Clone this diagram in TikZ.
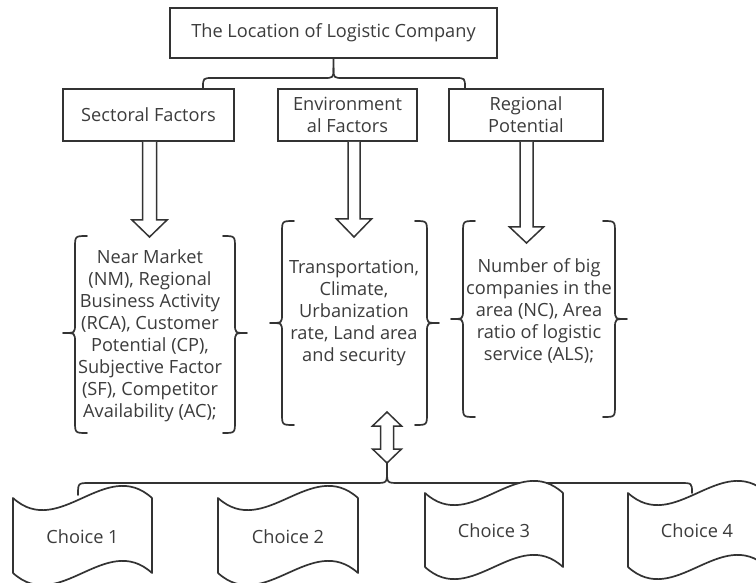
\documentclass[tikz,border=0pt]{standalone}
\usepackage{fontspec}
\setmainfont{Open Sans}
\definecolor{ln}{HTML}{333333}
\definecolor{tx}{HTML}{3C3C3C}
\newcommand\BrL[4]{% v t m b
  \draw[brc] ({#1+12},#2) .. controls (#1,#2) .. (#1,{#2+12}) -- (#1,{#3-9}) .. controls (#1,#3) .. ({#1-12},#3) .. controls (#1,#3) .. (#1,{#3+9}) -- (#1,{#4-12}) .. controls (#1,#4) .. ({#1+12},#4);}
\newcommand\BrR[4]{%
  \draw[brc] ({#1-12},#2) .. controls (#1,#2) .. (#1,{#2+12}) -- (#1,{#3-9}) .. controls (#1,#3) .. ({#1+12},#3) .. controls (#1,#3) .. (#1,{#3+9}) -- (#1,{#4-12}) .. controls (#1,#4) .. ({#1-12},#4);}
\newcommand\Tape[4]{% L T B W
  \draw[tp] (#1,#2) .. controls ({#1+#4/3},{#2+42}) and ({#1+2*#4/3},{#2-42}) .. ({#1+#4},#2) -- ({#1+#4},#3) .. controls ({#1+2*#4/3},{#3-42}) and ({#1+#4/3},{#3+42}) .. (#1,#3) -- cycle;}
\begin{document}
\begin{tikzpicture}[x=1pt,y=-1pt,
  every node/.style={text=tx,font=\fontsize{18.2}{22}\selectfont,align=center,inner sep=0pt},
  box/.style={draw=ln,line width=1.7pt,fill=white},
  brc/.style={draw=ln,line width=1.7pt,line cap=round,line join=round},
  barrow/.style={draw=ln,line width=1.5pt,fill=white,line join=miter},
  tp/.style={draw=ln,line width=1.7pt,fill=white,line join=round}]
\useasboundingbox (0,0) rectangle (756,583);
\clip (0,0) rectangle (756,583);
\fill[white] (0,0) rectangle (756,583);
% top level
\node[box,minimum width=327,minimum height=50] (top) at (333.5,33) {The Location of Logistic Company};
\node[box,minimum width=171,minimum height=52] (sec) at (148.5,115) {Sectoral Factors};
\node[box,minimum width=139,minimum height=52] (env) at (347.5,115) {Environment\\al Factors};
\node[box,minimum width=154,minimum height=52] (reg) at (526,115) {Regional\\Potential};
% top brace
\draw[brc] (top.south) -- (333.5,68) .. controls (333.5,78) .. (323.5,78) -- (213,78) .. controls (203,78) .. (203,88);
\draw[brc] (333.5,68) .. controls (333.5,78) .. (343.5,78) -- (455,78) .. controls (465,78) .. (465,88);
% block arrows
\draw[barrow] (142.5,142) -- (142.5,220) -- (132,220) -- (149.5,237) -- (167,220) -- (156.5,220) -- (156.5,142);
\draw[barrow] (348,142) -- (348,219) -- (336.5,219) -- (354,237) -- (371.5,219) -- (360,219) -- (360,142);
\draw[barrow] (520,142) -- (520,227) -- (509.5,227) -- (526.5,243) -- (543.5,227) -- (533,227) -- (533,142);
% factor texts
\node (t1) at (150,336) {Near Market\\(NM), Regional\\Business Activity\\(RCA), Customer\\Potential (CP),\\Subjective Factor\\(SF), Competitor\\Availability (AC);};
\node (t2) at (354,313) {Transportation,\\Climate,\\Urbanization\\rate, Land area\\and security};
\node (t3) at (539,311) {Number of big\\companies in the\\area (NC), Area\\ratio of logistic\\service (ALS);};
% braces
\BrL{75}{236}{333}{433}
\BrR{235}{236}{333}{433}
\BrL{282}{221}{323}{425}
\BrR{427}{221}{323}{425}
\BrL{463}{221}{319}{417}
\BrR{615}{221}{319}{417}
% double arrow
\draw[barrow] (387,412) -- (401.5,426) -- (393.5,426) -- (393.5,449) -- (401.5,449) -- (387,463) -- (372.5,449) -- (380.5,449) -- (380.5,426) -- (372.5,426) -- cycle;
% bottom brace
\draw[brc] (387,463) -- (387,471) .. controls (387,483) .. (375,483) -- (90,483) .. controls (78,483) .. (78,495);
\draw[brc] (387,471) .. controls (387,483) .. (399,483) -- (680,483) .. controls (692,483) .. (692,493);
% choices
\Tape{13}{498}{573}{139}
\Tape{218}{498}{573}{140}
\Tape{425}{493}{567}{138}
\Tape{628}{493}{567}{139}
\node (c1) at (82.5,537) {Choice 1};
\node (c2) at (288,537) {Choice 2};
\node (c3) at (494,531) {Choice 3};
\node (c4) at (697,531) {Choice 4};
\end{tikzpicture}
\end{document}
